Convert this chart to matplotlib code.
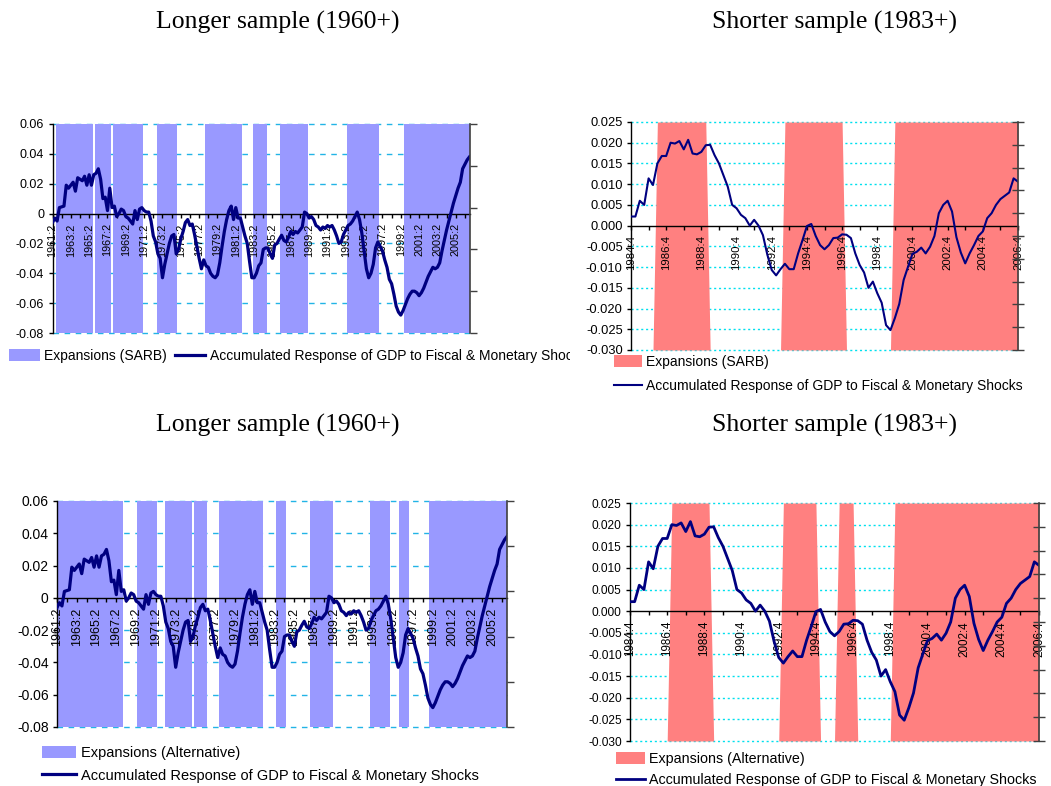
import matplotlib
matplotlib.use('Agg')
import matplotlib.pyplot as plt
from matplotlib.patches import Patch
from matplotlib.lines import Line2D
from matplotlib.transforms import Bbox, TransformedBbox

plt.rcParams['font.family'] = ['Liberation Sans', 'DejaVu Sans']

W, H = 1051, 786  # figure size in pixels

# accumulated response of GDP, quarterly
long_start = (1961, 2)
long_response = [
    -0.006, -0.003, -0.005, 0.004, 0.0045, 0.005, 0.019, 0.017, 0.019, 0.021,
    0.015, 0.024, 0.023, 0.022, 0.025, 0.019, 0.026, 0.019, 0.026, 0.027,
    0.030, 0.023, 0.010, 0.011, 0.002, 0.017, 0.004, 0.005, -0.002, 0.000,
    0.003, 0.002, -0.002, -0.003, -0.005, -0.007, 0.002, -0.004, 0.003, 0.004,
    0.002, 0.001, 0.001, -0.005, -0.015, -0.019, -0.027, -0.030, -0.043, -0.034,
    -0.027, -0.020, -0.015, -0.014, -0.027, -0.024, -0.017, -0.012, -0.006, -0.004,
    -0.008, -0.007, -0.014, -0.022, -0.030, -0.037, -0.031, -0.035, -0.036, -0.040,
    -0.042, -0.043, -0.041, -0.033, -0.022, -0.012, -0.004, 0.002, 0.005, -0.004,
    0.004, -0.003, -0.003, -0.009, -0.015, -0.020, -0.032, -0.043, -0.043, -0.040,
    -0.035, -0.033, -0.024, -0.023, -0.023, -0.027, -0.030, -0.021, -0.020, -0.017,
    -0.0145, -0.018, -0.019, -0.016, -0.012, -0.014, -0.012, -0.013, -0.011, -0.009,
    0.001, 0.000, -0.003, -0.002, -0.004, -0.008, -0.009, -0.011, -0.009, -0.010,
    -0.008, -0.009, -0.008, -0.011, -0.015, -0.020, -0.019, -0.014, -0.011, -0.008,
    -0.007, -0.005, -0.002, 0.001, -0.004, -0.013, -0.025, -0.037, -0.043, -0.040,
    -0.034, -0.023, -0.019, -0.022, -0.025, -0.031, -0.036, -0.044, -0.047, -0.054,
    -0.062, -0.066, -0.068, -0.065, -0.061, -0.057, -0.054, -0.052, -0.052, -0.053,
    -0.055, -0.053, -0.050, -0.046, -0.042, -0.039, -0.036, -0.037, -0.036, -0.033,
    -0.025, -0.018, -0.011, -0.005, 0.001, 0.007, 0.012, 0.017, 0.021, 0.030,
    0.033, 0.036, 0.038,
]

short_start = (1984, 4)
short_response = [
    0.0022, 0.0022, 0.0060, 0.0050, 0.0114, 0.0098, 0.0150, 0.0168, 0.0168, 0.0200,
    0.0198, 0.0204, 0.0184, 0.0207, 0.0174, 0.0172, 0.0178, 0.0194, 0.0195, 0.0170,
    0.0150, 0.0122, 0.0094, 0.0050, 0.0042, 0.0026, 0.0018, 0.0000, 0.0014, 0.0000,
    -0.0023, -0.0070, -0.0107, -0.0120, -0.0105, -0.0092, -0.0105, -0.0105, -0.0067, -0.0035,
    -0.0001, 0.0004, -0.0025, -0.0047, -0.0057, -0.0047, -0.0030, -0.0029, -0.0021, -0.0022,
    -0.0030, -0.0067, -0.0095, -0.0113, -0.0150, -0.0135, -0.0163, -0.0186, -0.0240, -0.0252,
    -0.0223, -0.0189, -0.0131, -0.0099, -0.0068, -0.0063, -0.0053, -0.0067, -0.0051, -0.0025,
    0.0030, 0.0050, 0.0060, 0.0034, -0.0028, -0.0065, -0.0091, -0.0067, -0.0047, -0.0025,
    -0.0014, 0.0018, 0.0030, 0.0050, 0.0064, 0.0072, 0.0080, 0.0114, 0.0106,
]

# expansion phases (first quarter, last quarter)
sarb_expansions = [
    ('1961:4', '1965:3'), ('1966:1', '1967:3'), ('1968:1', '1971:1'),
    ('1972:4', '1974:4'), ('1978:1', '1981:4'), ('1983:2', '1984:3'),
    ('1986:2', '1989:1'), ('1993:3', '1996:4'), ('1999:4', '2006:4'),
]
alt_expansions = [
    ('1961:2', '1967:4'), ('1969:3', '1971:2'), ('1972:2', '1974:4'),
    ('1975:2', '1976:2'), ('1977:4', '1982:1'), ('1983:3', '1984:2'),
    ('1987:1', '1989:1'), ('1993:1', '1994:4'), ('1996:1', '1996:4'),
    ('1999:1', '2006:4'),
]

line_label = 'Accumulated Response of GDP to Fiscal & Monetary Shocks'
navy = '#000080'
blue_fill = '#9999FF'
red_fill = '#FF8080'


def quarter_labels(start, n):
    y, q = start
    out = []
    for _ in range(n):
        out.append(f'{y}:{q}')
        q += 1
        if q > 4:
            q, y = 1, y + 1
    return out


def expansion_flags(labels, periods):
    key = lambda s: tuple(int(p) for p in s.split(':'))
    return [1 if any(key(a) <= key(l) <= key(b) for a, b in periods) else 0
            for l in labels]


def add_panel(left, top, right, bottom, values, start, periods, fill, step,
              ylim, ystep, yfmt, grid_color, grid_ls, lw, rticks, rdir, rlen,
              ysize, xsize):
    ax = fig.add_axes([left / W, 1 - bottom / H, (right - left) / W, (bottom - top) / H])
    n = len(values)
    x = list(range(n))
    labels = quarter_labels(start, n)
    flags = expansion_flags(labels, periods)

    # spine position first: moving it resets the tick labels
    ax.spines['bottom'].set_position(('data', 0))
    ax.spines['top'].set_visible(False)
    ax.spines['right'].set_visible(False)
    for s in ('left', 'bottom'):
        ax.spines[s].set_linewidth(1.0)

    ax.fill_between(x, 0, flags, step=step, transform=ax.get_xaxis_transform(),
                    color=fill, lw=0, zorder=1)
    ax.plot(x, values, color=navy, lw=lw, zorder=3, solid_joinstyle='round')

    nt = int(round((ylim[1] - ylim[0]) / ystep))
    yt = [ylim[0] + i * ystep for i in range(nt + 1)]
    for v in yt:
        if abs(v) > 1e-9:
            ax.axhline(v, color=grid_color, ls=grid_ls, lw=1.0, zorder=0.5, clip_on=False)
    ax.set_ylim(ylim)
    ax.set_yticks(yt)
    ax.set_yticklabels([yfmt(0.0 if abs(v) < 1e-9 else v) for v in yt])
    ax.set_xlim(0, n - 1)
    xt = list(range(0, n, 4))
    ax.set_xticks(xt)
    ax.set_xticklabels([labels[i] if i % 8 == 0 else '' for i in xt])
    ax.tick_params(axis='x', direction='out', length=3, width=1, pad=4,
                   labelrotation=90, labelsize=xsize)
    ax.tick_params(axis='y', direction='out', length=3, width=1, pad=3,
                   labelsize=ysize)
    ax.patch.set_visible(False)

    ax2 = ax.twinx()
    ax2.set_ylim(0, 1)
    ax2.set_yticks([i / rticks for i in range(rticks + 1)])
    ax2.set_yticklabels([])
    for s in ('left', 'top', 'bottom'):
        ax2.spines[s].set_visible(False)
    ax2.spines['right'].set_color('#404040')
    ax2.spines['right'].set_linewidth(1.2)
    ax2.tick_params(axis='y', direction=rdir, length=rlen, width=1, color='#404040')
    return ax


fig = plt.figure(figsize=(W / 100, H / 100), dpi=100)

fmt_long = lambda v: f'{v:g}'
fmt_short = lambda v: f'{v:.3f}'

add_panel(52.5, 124, 469.5, 333, long_response, long_start, sarb_expansions,
          blue_fill, 'mid', (-0.08, 0.06), 0.02, fmt_long, '#22B4E6', (0, (4, 4)),
          2.3, 5, 'out', 5, 9, 7.8)
add_panel(631, 122, 1018, 350, short_response, short_start, sarb_expansions,
          red_fill, None, (-0.03, 0.025), 0.005, fmt_short, '#00E0EE', (0, (1.5, 2)),
          1.5, 10, 'inout', 8, 9.3, 8.2)
add_panel(57, 501, 507, 727, long_response, long_start, alt_expansions,
          blue_fill, 'mid', (-0.08, 0.06), 0.02, fmt_long, '#22B4E6', (0, (4, 4)),
          2.3, 5, 'out', 5, 10, 9)
add_panel(630, 503, 1039, 741, short_response, short_start, alt_expansions,
          red_fill, None, (-0.03, 0.025), 0.005, fmt_short, '#00E0EE', (0, (1.5, 2)),
          2.0, 10, 'inout', 8, 8.6, 8.4)

title_kw = dict(ha='center', va='center', family=['Liberation Serif', 'DejaVu Serif'], size=18.5)
fig.text(278 / W, 1 - 22 / H, 'Longer sample (1960+)', **title_kw)
fig.text(835 / W, 1 - 22 / H, 'Shorter sample (1983+)', **title_kw)
fig.text(278 / W, 1 - 425 / H, 'Longer sample (1960+)', **title_kw)
fig.text(835 / W, 1 - 425 / H, 'Shorter sample (1983+)', **title_kw)


def add_legend(x, y, patch_label, fill, lw, ncol, size, hl, spacing):
    handles = [Patch(facecolor=fill, edgecolor='none'),
               Line2D([], [], color=navy, lw=lw)]
    leg = fig.legend(handles, [patch_label, line_label], ncol=ncol, loc='upper left',
                     bbox_to_anchor=(x / W, 1 - y / H), frameon=False, fontsize=size,
                     handlelength=hl, handleheight=0.9, handletextpad=0.3,
                     columnspacing=0.6, labelspacing=spacing, borderpad=0,
                     borderaxespad=0)
    return leg


leg = add_legend(9, 349, 'Expansions (SARB)', blue_fill, 2.3, 2, 10, 2.2, 0.5)
clip = TransformedBbox(Bbox([[0, 0], [570 / W, 1]]), fig.transFigure)
for t in leg.get_texts():
    t.set_clip_box(clip)
    t.set_clip_on(True)
add_legend(614, 355, 'Expansions (SARB)', red_fill, 1.5, 1, 10, 2.0, 0.75)
add_legend(42, 746, 'Expansions (Alternative)', blue_fill, 2.3, 1, 10.5, 2.35, 0.6)
add_legend(616, 752, 'Expansions (Alternative)', red_fill, 2.0, 1, 10.3, 2.0, 0.5)

fig.savefig('out.png', dpi=100)
